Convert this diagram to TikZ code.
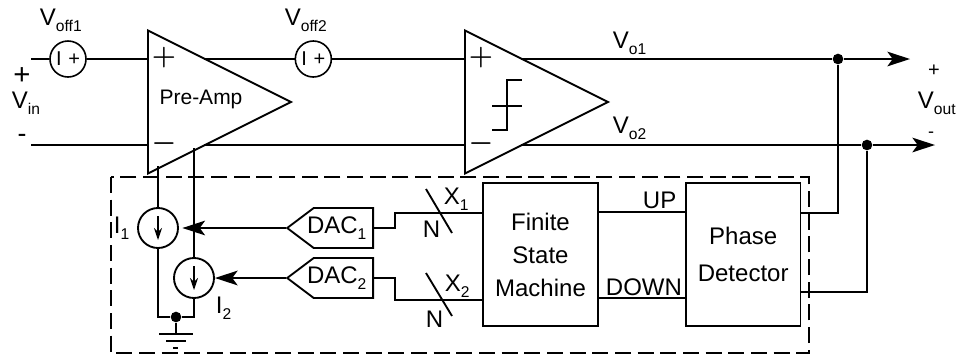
\documentclass[tikz,border=0pt]{standalone}
\usepackage{fontspec}
\setmainfont{Liberation Sans}
\usepackage{xcolor}
\usetikzlibrary{shapes.geometric,shapes.symbols,arrows.meta}
\newcommand{\subtxt}[1]{\raisebox{-0.28em}{\fontsize{11.7}{12}\selectfont #1}}

\begin{document}
\begin{tikzpicture}[x=0.75pt, y=-0.75pt, node distance=37.5pt, line width=1.4pt]
    \tikzstyle{amp} = [isosceles triangle, isosceles triangle stretches, draw, fill=white, minimum width=107.25pt, minimum height=107.25pt, inner sep=0pt, anchor=lower side]
    \tikzstyle{offset} = [circle, draw, line width=1.2pt, minimum size=27pt, inner sep=0pt, font=\fontsize{15}{15}\selectfont]
    \tikzstyle{isource} = [circle, draw, minimum size=30pt, inner sep=0pt]
    \tikzstyle{dac} = [signal, signal to=west, signal pointer angle=74, draw, minimum height=30pt, inner sep=0pt, font=\fontsize{18}{18}\selectfont]
    \tikzstyle{block} = [rectangle, draw, minimum width=86pt, minimum height=107pt, align=center, font=\fontsize{18}{27.5}\selectfont]
    \tikzstyle{lbl} = [anchor=base west, inner sep=0pt, font=\fontsize{18}{18}\selectfont]
    \tikzstyle{sign} = [inner sep=0pt, font=\fontsize{20.74}{24}\selectfont\boldmath]
    \tikzstyle{jdot} = [circle, fill=black, inner sep=0pt, minimum size=8pt]
    \tikzstyle{head} = [-{Stealth[length=17pt,width=11pt,inset=4pt]}]

    \useasboundingbox (0,0) rectangle (960,362);

    % Amplifiers
    \node [amp] (preamp) at (147,102) {};
    \node [amp] (comp) at (464,102) {};
    \node [font=\fontsize{15.75}{16}\selectfont] (preamplbl) at (201,99) {Pre-Amp};
    \node [sign] (prep) at (164,58) {$+$};
    \node [sign] (pren) at (164,144) {$-$};
    \node [sign] (compp) at (481,58) {$+$};
    \node [sign] (compn) at (481,144) {$-$};

    % Offset sources
    \node [offset] (voffa) at (68,59) {I\,\,+};
    \node [offset, right of=voffa, xshift=146.5pt] (voffb) {I\,\,+};

    % Feedback blocks
    \node [block, font=\fontsize{18}{24.75}\selectfont] (fsm) at (540.5,254.5) {Finite\\State\\Machine};
    \node [block, right of=fsm, xshift=114.5pt] (pd) {Phase\\Detector};
    \node [dac, anchor=east] (daca) at (374,228) {\hspace*{-5pt}DAC\subtxt{1}\hspace*{5pt}};
    \node [dac, below of=daca] (dacb) {\hspace*{-5pt}DAC\subtxt{2}\hspace*{5pt}};

    % Current sources
    \node [isource] (ia) at (158,228) {};
    \node [isource, below of=ia, xshift=27pt] (ib) {};
    \node [jdot] (gnd) at (176,317) {};
    \node [jdot] (dota) at (838,59) {};
    \node [jdot] (dotb) at (867,145) {};

    % Free wire ends
    \coordinate (vinp) at (31,59);
    \coordinate (vinn) at (31,145);
    \coordinate (preoutp) at (204,59);
    \coordinate (preoutn) at (204,145);
    \coordinate (compoutp) at (521,59);
    \coordinate (compoutn) at (521,145);
    \coordinate (voutp) at (910,59);
    \coordinate (voutn) at (935,145);
    \coordinate (prebota) at (158,166);
    \coordinate (prebotb) at (194,148);

    % Signal path
    \draw (vinp) -- (voffa);
    \draw (voffa) -- (preamp.lower side |- voffa);
    \draw (preoutp) -- (voffb);
    \draw (voffb) -- (comp.lower side |- voffb);
    \draw (vinn) -- (preamp.lower side |- vinn);
    \draw (preoutn) -- (comp.lower side |- preoutn);
    \draw (compoutp) -- (dota);
    \draw (compoutn) -- (dotb);
    \draw [head, line width=1pt] (dota) -- (voutp);
    \draw [head, line width=1pt] (dotb) -- (voutn);

    % Feedback
    \draw (pd.east |- 0,213) -| (dota);
    \draw (pd.east |- 0,292) -| (dotb);
    \draw (fsm.east |- 0,212) -- (pd.west |- 0,212);
    \draw (fsm.east |- 0,298) -- (pd.west |- 0,298);
    \draw (daca.east) -- (395,228) -- (395,213) -- (fsm.west |- 0,213);
    \draw (dacb.east) -- (395,278) -- (395,300) -- (fsm.west |- 0,300);
    \draw [head, shorten >=2.6pt] (daca.west) -- (ia.east);
    \draw [head] (dacb.west) -- (ib.east);
    \draw (prebota) -- (ia.north);
    \draw (prebotb) -- (ib.north);
    \draw (ia.south) |- (gnd);
    \draw (ib.south) |- (gnd);

    % Current arrows
    \draw [-{Stealth[length=9pt,width=6pt]}, line width=1pt] (158,216) -- (158,240);
    \draw [-{Stealth[length=9pt,width=6pt]}, line width=1pt] (194,266) -- (194,290);

    % Ground
    \draw (gnd) -- (176,334);
    \draw (159,334) -- (193,334);
    \draw (166,341) -- (186,341);
    \draw (173,348) -- (178,348);

    % Bus slashes
    \draw (426,189) -- (452,233);
    \draw (426,273) -- (452,316);

    % Comparator step
    \draw (492,130) -- (507,130) -- (507,80) -- (522,80);
    \draw (492,106) -- (522,106);

    % Dashed box
    \draw [dash pattern=on 12pt off 5pt] (111,177) rectangle (809,353);

    % Labels
    \node [lbl] (voffalbl) at (39,25) {V\subtxt{off1}};
    \node [lbl] (voffblbl) at (284,25) {V\subtxt{off2}};
    \node [lbl] (vinlbl) at (11,108) {V\subtxt{in}};
    \node [lbl] (voalbl) at (612,48) {V\subtxt{o1}};
    \node [lbl] (vonlbl) at (612,133) {V\subtxt{o2}};
    \node [lbl] (voutlbl) at (917,108) {V\subtxt{out}};
    \node [lbl] (ialbl) at (113,233) {I\subtxt{1}};
    \node [lbl] (iblbl) at (215,313) {I\subtxt{2}};
    \node [lbl] (xalbl) at (443,204) {X\subtxt{1}};
    \node [lbl] (xblbl) at (444,291) {X\subtxt{2}};
    \node [lbl] (nalbl) at (422,237) {N};
    \node [lbl] (nblbl) at (425,327) {N};
    \node [lbl] (uplbl) at (642,208) {UP};
    \node [lbl] (downlbl) at (605,295) {DOWN};
    \node [inner sep=0pt, font=\fontsize{22}{22}\selectfont] (vinplus) at (22,76) {+};
    \node [inner sep=0pt, font=\fontsize{20}{20}\selectfont] (vinminus) at (22,138) {-};
    \node [inner sep=0pt, font=\fontsize{15}{15}\selectfont] (voutplus) at (934,71) {+};
    \node [inner sep=0pt, font=\fontsize{13.5}{14}\selectfont] (voutminus) at (931,135) {-};
\end{tikzpicture}
\end{document}
